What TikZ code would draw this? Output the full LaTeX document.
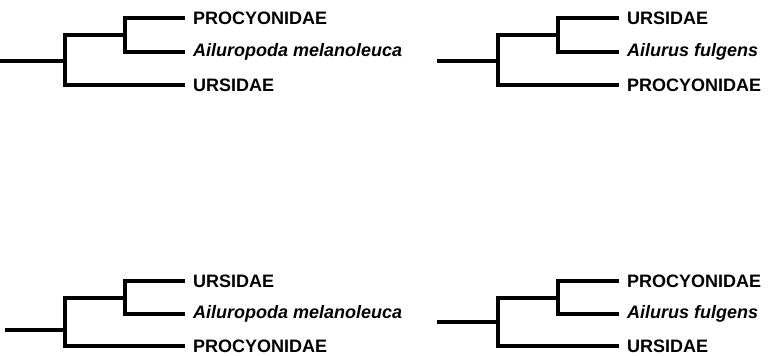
\documentclass[tikz,border=0pt]{standalone}
\usepackage{fontspec}
\setmainfont{Liberation Sans}
\usepackage{tikz}
\usetikzlibrary{positioning}
\pgfdeclarelayer{edgelayer}
\pgfdeclarelayer{nodelayer}
\pgfsetlayers{edgelayer,nodelayer,main}
\tikzset{font=\fontsize{18}{20}\selectfont\bfseries}
\tikzstyle{taxon}=[anchor=west,inner xsep=10pt,inner ysep=0pt]
\tikzstyle{species}=[taxon,font=\fontsize{18}{20}\selectfont\bfseries\itshape]
\tikzstyle{branch}=[line width=3.2pt,line cap=rect]

\begin{document}
\begin{tikzpicture}[x=1pt,y=-1pt]
	\useasboundingbox (0,0) rectangle (771,356);
	\begin{pgfonlayer}{nodelayer}
		% top left
		\node [style=taxon] (a1) at (183,18) {PROCYONIDAE};
		\node [style=species] (b1) at (183,52) {Ailuropoda melanoleuca};
		\node [style=taxon] (c1) at (183,85) {URSIDAE};
		% top right
		\node [style=taxon] (a2) at (617,18) {URSIDAE};
		\node [style=species] (b2) at (617,52) {Ailurus fulgens};
		\node [style=taxon] (c2) at (617,85) {PROCYONIDAE};
		% bottom left
		\node [style=taxon] (a3) at (183,281) {URSIDAE};
		\node [style=species] (b3) at (183,314) {Ailuropoda melanoleuca};
		\node [style=taxon] (c3) at (183,346) {PROCYONIDAE};
		% bottom right
		\node [style=taxon] (a4) at (617,281) {PROCYONIDAE};
		\node [style=species] (b4) at (617,314) {Ailurus fulgens};
		\node [style=taxon] (c4) at (617,346) {URSIDAE};
	\end{pgfonlayer}
	\coordinate (s1) at (1,61);   \coordinate (n1) at (65,61);   \coordinate (m1) at (125,35);
	\coordinate (s2) at (439,61); \coordinate (n2) at (498,61);  \coordinate (m2) at (558,35);
	\coordinate (s3) at (7,330);  \coordinate (n3) at (65,330);  \coordinate (m3) at (125,298);
	\coordinate (s4) at (439,322); \coordinate (n4) at (498,322); \coordinate (m4) at (558,298);
	\begin{pgfonlayer}{edgelayer}
		\foreach \t in {1,2,3,4} {
			\draw [style=branch] (m\t) |- (a\t.west);
			\draw [style=branch] (m\t) |- (b\t.west);
			\draw [style=branch] (n\t) |- (m\t);
			\draw [style=branch] (n\t) |- (c\t.west);
			\draw [style=branch] (s\t) -- (n\t);
		}
	\end{pgfonlayer}
\end{tikzpicture}
\end{document}
